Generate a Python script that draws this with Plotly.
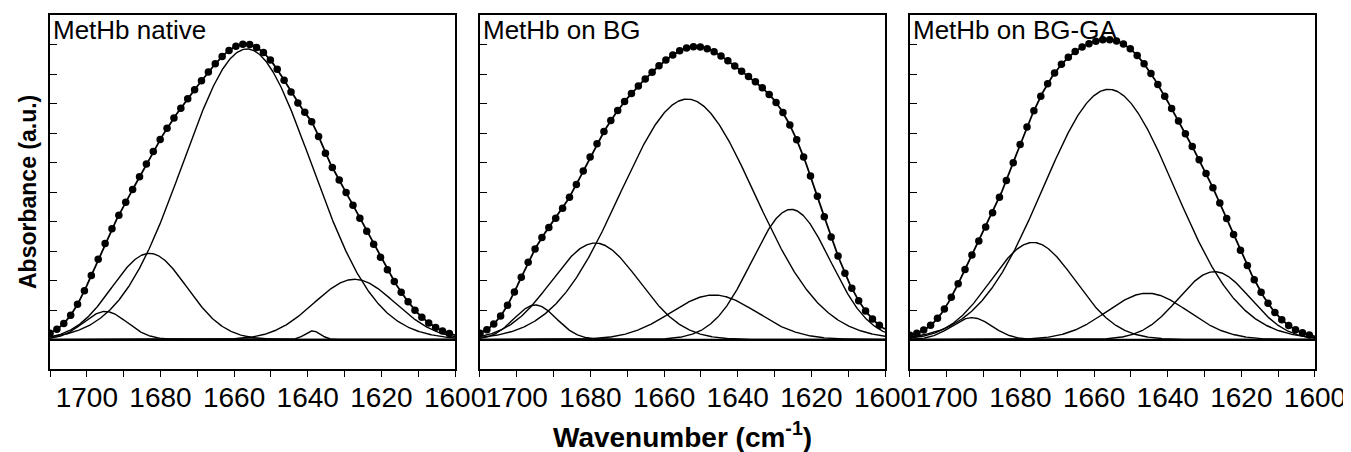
import numpy as np
import plotly.graph_objects as go

# ---- data (band-fit components) ----
panel_titles = ["MetHb native", "MetHb on BG", "MetHb on BG-GA"]

native_centers = [1695.0, 1683.0, 1656.5, 1638.7, 1627.3]
native_heights = [0.095, 0.292, 0.985, 0.029, 0.204]
native_fwhm = [14.0, 24.0, 41.0, 5.0, 26.0]

bg_centers = [1695.0, 1678.7, 1653.7, 1646.5, 1625.5]
bg_heights = [0.117, 0.327, 0.815, 0.151, 0.441]
bg_fwhm = [13.5, 28.0, 43.0, 27.5, 25.0]

bgga_centers = [1693.2, 1676.6, 1656.0, 1645.5, 1627.3]
bgga_heights = [0.074, 0.329, 0.848, 0.157, 0.230]
bgga_fwhm = [13.0, 27.0, 42.0, 26.0, 23.0]

tick_vals = [1700, 1680, 1660, 1640, 1620, 1600]
tick_text = ["1700", "1680", "1660", "1640", "1620", "1600"]

x_range = [1710, 1600]
y_range = [-0.1, 1.1]
point_step = 1.87  # spectral spacing of the measured points (cm-1)

panels = [
    (native_centers, native_heights, native_fwhm),
    (bg_centers, bg_heights, bg_fwhm),
    (bgga_centers, bgga_heights, bgga_fwhm),
]

FONT = "Liberation Sans, Arial, sans-serif"


def band(x, c, h, w):
    return h * np.exp(-4.0 * np.log(2.0) * (x - c) ** 2 / w ** 2)


fig = go.Figure()
grid = np.linspace(x_range[0], x_range[1], 661)
pts = np.arange(x_range[0], x_range[1] - 0.01, -point_step)

domains = [[0.0, 0.3202], [0.3399, 0.6601], [0.6798, 1.0]]

for i, (cs, hs, ws) in enumerate(panels):
    xa = "x" if i == 0 else f"x{i+1}"
    ya = "y" if i == 0 else f"y{i+1}"
    total = np.zeros_like(grid)
    total_pts = np.zeros_like(pts)
    for c, h, w in zip(cs, hs, ws):
        comp = band(grid, c, h, w)
        total += comp
        total_pts += band(pts, c, h, w)
        fig.add_trace(go.Scatter(x=grid, y=comp, mode="lines",
                                 line=dict(color="black", width=1.4),
                                 xaxis=xa, yaxis=ya, showlegend=False,
                                 hoverinfo="skip"))
    fig.add_trace(go.Scatter(x=grid, y=total, mode="lines",
                             line=dict(color="black", width=1.8),
                             xaxis=xa, yaxis=ya, showlegend=False))
    fig.add_trace(go.Scatter(x=pts, y=total_pts, mode="markers",
                             marker=dict(color="black", size=7.5),
                             xaxis=xa, yaxis=ya, showlegend=False))

    xkey = "xaxis" if i == 0 else f"xaxis{i+1}"
    ykey = "yaxis" if i == 0 else f"yaxis{i+1}"
    fig.layout[xkey] = dict(
        domain=domains[i], anchor=ya, range=x_range, autorange=False,
        automargin=False,
        tickmode="array", tickvals=tick_vals, ticktext=tick_text,
        ticks="outside", ticklen=6, tickwidth=1, tickcolor="black",
        ticklabelstandoff=-3,
        minor=dict(dtick=10, tick0=1600, ticks="outside", ticklen=6,
                   tickwidth=1, tickcolor="black", showgrid=False),
        showline=True, linecolor="black", linewidth=1.5, mirror=True,
        showgrid=False, zeroline=False,
        tickfont=dict(family=FONT, size=28, color="black"),
    )
    fig.layout[ykey] = dict(
        domain=[0, 1], anchor=xa, range=y_range, autorange=False,
        automargin=False,
        tick0=0, dtick=0.1, ticks="inside", ticklen=7, tickwidth=1,
        tickcolor="black", showticklabels=False,
        showline=True, linecolor="black", linewidth=1.5, mirror=True,
        showgrid=False, zeroline=True, zerolinecolor="black",
        zerolinewidth=1.5,
    )
    fig.add_annotation(text=panel_titles[i], xref=f"{xa} domain",
                       yref=f"{ya} domain", x=0, y=1, xanchor="left",
                       yanchor="top", showarrow=False, xshift=1, yshift=2,
                       font=dict(family=FONT, size=26, color="black"))

fig.add_annotation(text="<b>Wavenumber (cm<sup>-1</sup>)</b>", xref="paper",
                   yref="paper", x=0.5, y=-0.186, xanchor="center",
                   yanchor="middle", showarrow=False,
                   font=dict(family=FONT, size=28, color="black"))
fig.add_annotation(text="<b>Absorbance (a.u.)</b>", xref="paper",
                   yref="paper", x=-0.0174, y=0.5, xanchor="center",
                   yanchor="middle", textangle=-90, showarrow=False,
                   font=dict(family=FONT, size=23, color="black"))

# page body adds an 8px offset at the top-left; size the figure to fit
fig.update_layout(
    width=1343, height=444,
    margin=dict(l=42, r=36, t=7, b=83),
    paper_bgcolor="white", plot_bgcolor="white",
    font=dict(family=FONT, color="black"),
)

fig.write_html("out.html")
